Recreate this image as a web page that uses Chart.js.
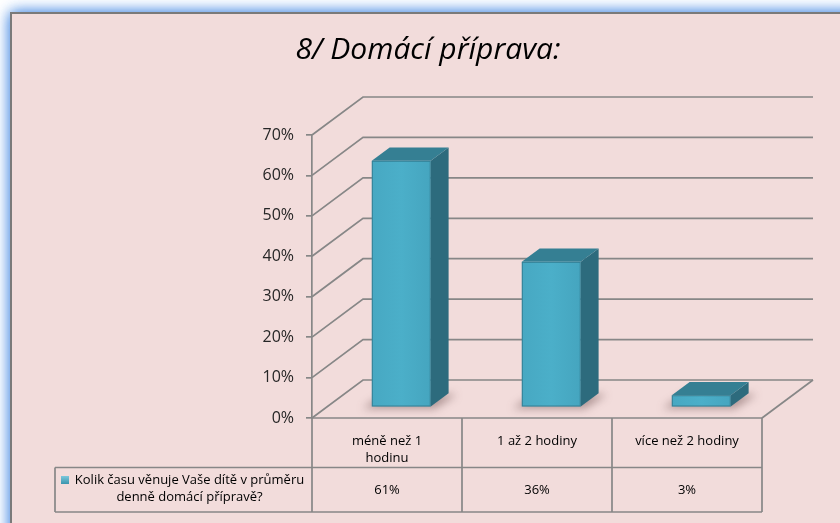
<!DOCTYPE html>
<html><head><meta charset="utf-8">
<script src="https://cdn.jsdelivr.net/npm/chart.js@4"></script>
<style>html,body{margin:0;padding:0;background:#fff;}canvas{display:block;}</style>
</head><body><canvas id="c" width="840" height="523"></canvas>
<script>
const chartTitle = '8/ Domácí příprava:';
const categories = [['méně než 1', 'hodinu'], ['1 až 2 hodiny'], ['více než 2 hodiny']];
const seriesLabel = ['Kolik času věnuje Vaše dítě v průměru', 'denně domácí přípravě?'];
const values = [61, 36, 3];
const yTicks = [0, 10, 20, 30, 40, 50, 60, 70];

const DX = 51, DY = -38;      // depth of the 3D box
const F1 = 0.28, F2 = 0.63;   // bar front/back position inside depth
const GRID = '#878787';

function line(c, pts) {
  c.beginPath();
  c.moveTo(pts[0][0], pts[0][1]);
  for (let i = 1; i < pts.length; i++) c.lineTo(pts[i][0], pts[i][1]);
  c.stroke();
}
function poly(c, pts, fill) {
  c.beginPath();
  c.moveTo(pts[0][0], pts[0][1]);
  for (let i = 1; i < pts.length; i++) c.lineTo(pts[i][0], pts[i][1]);
  c.closePath();
  c.fillStyle = fill;
  c.fill();
}

const frame3d = {
  id: 'frame3d',
  beforeDraw(chart) {
    const c = chart.ctx;
    c.save();
    c.fillStyle = '#fff';
    c.fillRect(0, 0, chart.width, chart.height);
    c.shadowColor = 'rgba(90,150,230,1)';
    c.shadowBlur = 14;
    c.fillStyle = '#F2DCDB';
    for (let k = 0; k < 2; k++) c.fillRect(11, 13, chart.width + 40, chart.height + 40);
    c.shadowBlur = 0;
    c.shadowColor = 'transparent';
    c.strokeStyle = '#7a7a7a';
    c.lineWidth = 2;
    c.strokeRect(11, 13, chart.width + 40, chart.height + 40);
    c.font = 'italic 30px "Open Sans"';
    c.fillStyle = '#000';
    c.textAlign = 'center';
    c.textBaseline = 'alphabetic';
    c.fillText(chartTitle, 428, 59);
    c.restore();
  },
  beforeDatasetsDraw(chart) {
    const c = chart.ctx, a = chart.chartArea, ys = chart.scales.y;
    c.save();
    c.strokeStyle = GRID;
    c.lineWidth = 1.7;
    ys.ticks.forEach(t => {
      const y = ys.getPixelForValue(t.value);
      line(c, [[a.left, y], [a.left + DX, y + DY], [a.right + DX, y + DY]]);
    });
    const b = ys.getPixelForValue(0);
    line(c, [[a.right, b], [a.right + DX, b + DY]]);
    c.restore();
  },
  afterDatasetsDraw(chart) {
    const c = chart.ctx, a = chart.chartArea;
    const meta = chart.getDatasetMeta(0);
    c.save();
    meta.data.forEach(el => {
      const p = el.getProps(['x', 'y', 'base', 'width'], true);
      const l = p.x - p.width / 2 + F1 * DX;
      const r = l + p.width;
      const top = p.y + F1 * DY;
      const bot = p.base + F1 * DY;
      const dx = (F2 - F1) * DX, dy = (F2 - F1) * DY;
      c.save();
      c.filter = 'blur(4px)';
      poly(c, [[l - 9, bot + 2], [r + 4, bot + 2], [r + dx + 8, bot + dy + 1], [l + dx - 6, bot + dy + 1]], 'rgba(90,60,60,0.45)');
      c.restore();
      poly(c, [[r, top], [r + dx, top + dy], [r + dx, bot + dy], [r, bot]], '#2D6B7D');
      poly(c, [[l, top], [l + dx, top + dy], [r + dx, top + dy], [r, top]], '#357F93');
      const g = c.createLinearGradient(l, 0, r, 0);
      g.addColorStop(0, '#47A8C2');
      g.addColorStop(0.5, '#4BAFC9');
      g.addColorStop(1, '#45A5BF');
      poly(c, [[l, top], [r, top], [r, bot], [l, bot]], g);
      c.strokeStyle = 'rgba(40,100,118,0.6)';
      c.lineWidth = 1;
      c.strokeRect(l + 0.5, top + 0.5, p.width - 1, bot - top - 1);
    });

    // data table
    const n = chart.data.labels.length;
    const cw = (a.right - a.left) / n;
    const b = a.bottom, r1 = 467.5, r2 = 512, lx = 55;
    c.strokeStyle = GRID;
    c.lineWidth = 1.7;
    line(c, [[a.left, b], [a.right, b]]);
    line(c, [[lx, r1], [a.right, r1]]);
    line(c, [[lx, r2], [a.right, r2]]);
    line(c, [[lx, r1], [lx, r2]]);
    for (let i = 0; i <= n; i++) {
      const x = a.left + i * cw;
      line(c, [[x, b], [x, r2]]);
    }
    c.font = '13px "Open Sans"';
    c.fillStyle = '#000';
    c.textAlign = 'center';
    c.textBaseline = 'middle';
    categories.forEach((cat, i) => {
      const cx = a.left + (i + 0.5) * cw;
      cat.forEach((t, j) => c.fillText(t, cx, 441 + j * 17, cw - 8));
      c.fillText(values[i] + '%', cx, 490);
    });
    seriesLabel.forEach((t, j) => c.fillText(t, 189.5, 480 + j * 17, 235));
    const mg = c.createLinearGradient(0, 476, 0, 484);
    mg.addColorStop(0, '#7CC8DC');
    mg.addColorStop(1, '#3A95AE');
    c.fillStyle = mg;
    c.fillRect(61, 476, 8, 8);
    c.restore();
  }
};

new Chart(document.getElementById('c'), {
  type: 'bar',
  data: {
    labels: categories.map(cat => cat.join(' ')),
    datasets: [{
      label: seriesLabel.join(' '),
      data: values,
      backgroundColor: 'rgba(0,0,0,0)',
      borderWidth: 0,
      categoryPercentage: 1,
      barPercentage: 0.393
    }]
  },
  options: {
    responsive: false,
    animation: false,
    devicePixelRatio: 1,
    layout: { padding: { left: 0, right: 78, top: 135, bottom: 105 } },
    plugins: { legend: { display: false }, tooltip: { enabled: false }, title: { display: false } },
    scales: {
      x: { display: false },
      y: {
        min: 0, max: 70,
        afterBuildTicks: s => { s.ticks = yTicks.map(v => ({ value: v })); },
        afterFit: s => { s.width = 312; },
        ticks: { callback: v => v + '%', font: { family: 'Open Sans', size: 16 }, color: '#262626', padding: 12 },
        grid: { drawOnChartArea: false, drawTicks: true, tickLength: 6, color: GRID, lineWidth: 1.7 },
        border: { display: true, color: GRID, width: 1.7 }
      }
    }
  },
  plugins: [frame3d]
});
</script>
</body></html>
